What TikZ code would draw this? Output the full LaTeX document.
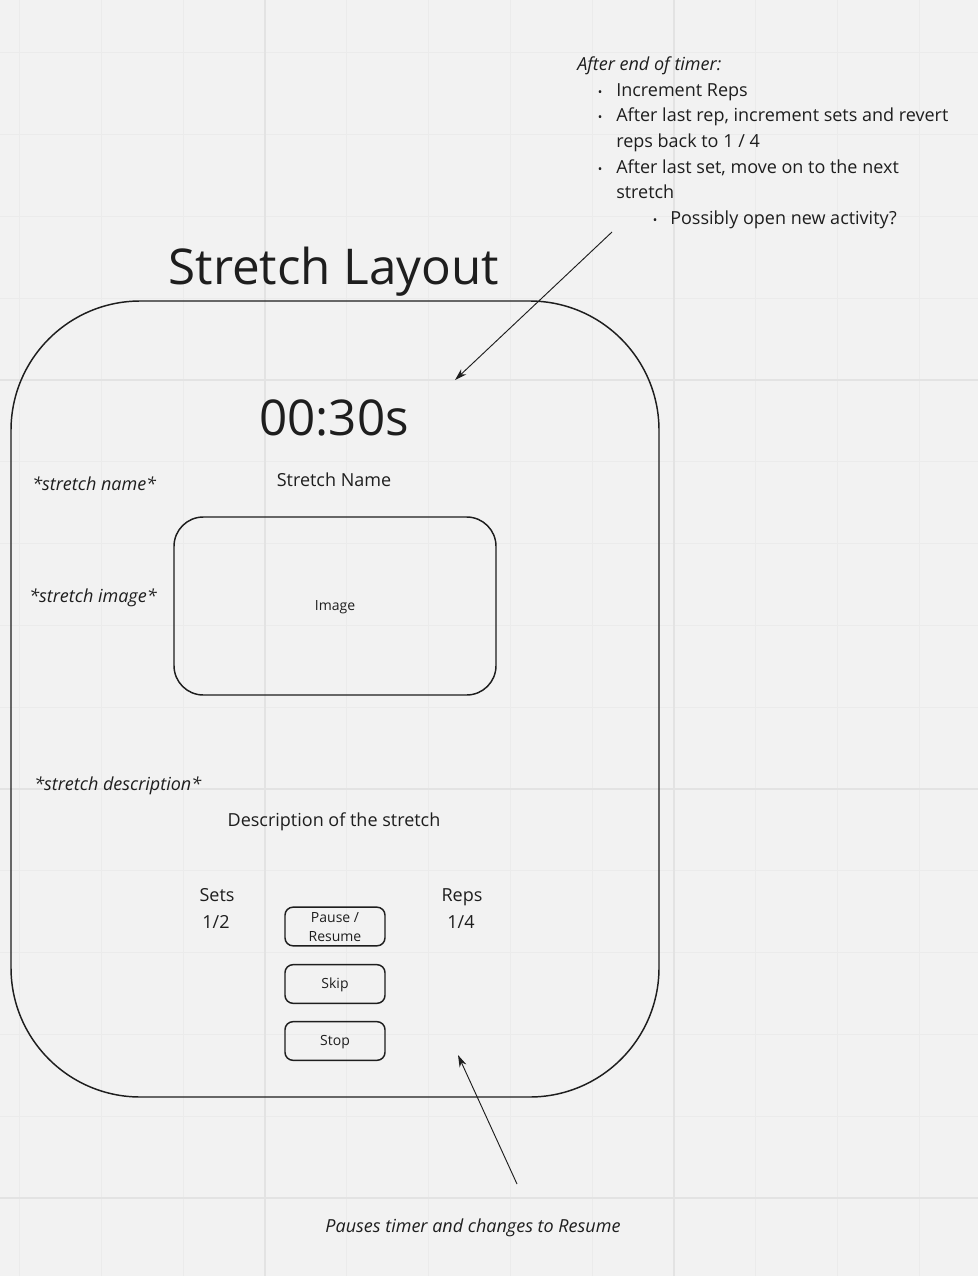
\documentclass[tikz,border=0pt]{standalone}
\usepackage{fontspec}
\setmainfont{Open Sans}
\usetikzlibrary{arrows.meta}
\definecolor{bg}{HTML}{F2F2F2}
\definecolor{gridminor}{HTML}{EBEBEB}
\definecolor{gridmajor}{HTML}{E3E3E3}
\definecolor{ink}{HTML}{1E1E1E}
\begin{document}
\begin{tikzpicture}[x=0.75pt,y=-0.75pt,
  txt/.style={inner sep=0pt, text=ink, font=\fontsize{13.5}{16}\selectfont},
  note/.style={txt, font=\fontsize{13.5}{16}\selectfont\itshape},
  small/.style={inner sep=0pt, text=ink, font=\fontsize{10.5}{14}\selectfont},
  big/.style={inner sep=0pt, text=ink, font=\fontsize{37}{40}\selectfont},
  outline/.style={draw=ink, line width=1.1pt},
  btn/.style={outline, rounded corners=6pt, minimum width=75pt, minimum height=29pt, inner sep=0pt},
  pointer/.style={draw=ink, line width=0.7pt, -{Stealth[length=9pt, width=5.5pt]}}
]
% canvas and background grid
\fill[bg] (0,0) rectangle (978,1276);
\useasboundingbox (0,0) rectangle (978,1276);
\foreach \i in {-3,...,8} \draw[gridminor, line width=0.9pt] ({265+81.8*\i},0) -- ++(0,1276);
\foreach \j in {-4,...,10} \draw[gridminor, line width=0.9pt] (0,{380+81.8*\j}) -- ++(978,0);
\foreach \i in {0,5} \draw[gridmajor, line width=1.4pt] ({265+81.8*\i},0) -- ++(0,1276);
\foreach \j in {0,5,10} \draw[gridmajor, line width=1.4pt] (0,{380+81.8*\j}) -- ++(978,0);

% title and device frame
\node[big, anchor=base] (title) at (334,285) {Stretch Layout};
\node[outline, rounded corners=97pt, minimum width=486pt, minimum height=597pt, inner sep=0pt] (frame) at (335,699) {};

% timer and stretch name
\node[big, anchor=base] (timer) at (334,435) {00:30s};
\node[txt, anchor=base] (sname) at (334,486) {Stretch Name};
\node[note, anchor=base west] (lname) at (32,490) {*stretch name*};

% image placeholder
\node[outline, rounded corners=22pt, minimum width=241.5pt, minimum height=133.5pt, inner sep=0pt] (image) at (335,606) {};
\node[small, anchor=base] (imagetext) at (335,610) {Image};
\node[note, anchor=base west] (limage) at (29,602) {*stretch image*};

% description
\node[note, anchor=base west] (ldesc) at (34,790) {*stretch description*};
\node[txt, anchor=base] (desc) at (334,826) {Description of the stretch};

% counters
\node[txt, anchor=base] (sets) at (217,901) {Sets};
\node[txt, anchor=base] (setsval) at (216,928) {1/2};
\node[txt, anchor=base] (reps) at (462,901) {Reps};
\node[txt, anchor=base] (repsval) at (461,928) {1/4};

% buttons
\node[btn] (pause) at (335,926.5) {};
\node[small, anchor=base] (pause1) at (335,922) {Pause /};
\node[small, anchor=base] (pause2) at (335,941) {Resume};
\node[btn] (skip) at (335,984) {};
\node[small, anchor=base] (skiptext) at (335,988) {Skip};
\node[btn] (stop) at (335,1041) {};
\node[small, anchor=base] (stoptext) at (335,1045) {Stop};

% end-of-timer notes
\node[note, anchor=base west] (n0) at (577,71) {After end of timer:};
\node[txt, anchor=base] (b1) at (600,97) {\fontsize{9}{10}\selectfont•};
\node[txt, anchor=base west] (n1) at (616,97) {Increment Reps};
\node[txt, anchor=base] (b2) at (600,122) {\fontsize{9}{10}\selectfont•};
\node[txt, anchor=base west] (n2) at (616,122) {After last rep, increment sets and revert};
\node[txt, anchor=base west] (n2b) at (616,148) {reps back to 1 / 4};
\node[txt, anchor=base] (b3) at (600,174) {\fontsize{9}{10}\selectfont•};
\node[txt, anchor=base west] (n3) at (616,174) {After last set, move on to the next};
\node[txt, anchor=base west] (n3b) at (616,199) {stretch};
\node[txt, anchor=base] (b4) at (655,225) {\fontsize{9}{10}\selectfont•};
\node[txt, anchor=base west] (n4) at (670,225) {Possibly open new activity?};

% pause note
\node[note, anchor=base] (pnote) at (473,1232) {Pauses timer and changes to Resume};

% pointers
\coordinate (a1s) at (612,232);
\coordinate (a1e) at (455,380);
\draw[pointer] (a1s) -- (a1e);
\coordinate (a2s) at (517,1184);
\coordinate (a2e) at (458,1055);
\draw[pointer] (a2s) -- (a2e);
\end{tikzpicture}
\end{document}
